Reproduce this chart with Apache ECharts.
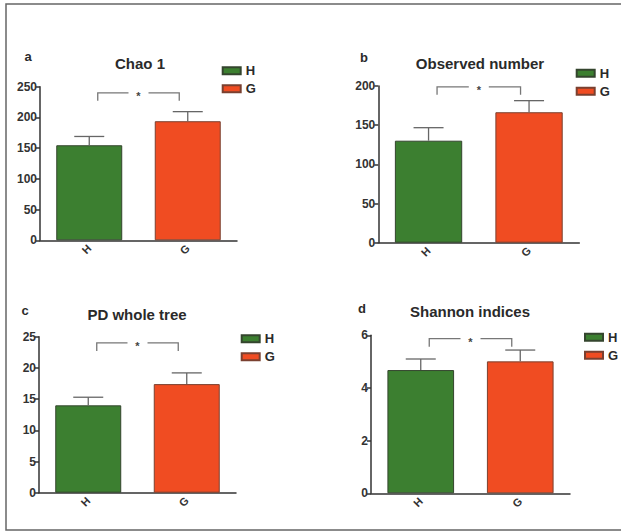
<!DOCTYPE html>
<html>
<head>
<meta charset="utf-8">
<script src="https://cdn.jsdelivr.net/npm/echarts@6/dist/echarts.min.js"></script>
<style>
html,body{margin:0;padding:0;background:#fff;}
#chart{width:621px;height:532px;}
</style>
</head>
<body>
<div id="chart"></div>
<script>
// ---- data ----
const categories = ['H', 'G'];
const panelLetters = ['a', 'b', 'c', 'd'];
const panelTitles = ['Chao 1', 'Observed number', 'PD whole tree', 'Shannon indices'];
const chaoMean = [154.7, 193.8];
const chaoUpper = [169.0, 209.4];
const observedMean = [130.2, 166.5];
const observedUpper = [146.8, 181.3];
const pdMean = [14.0, 17.4];
const pdUpper = [15.3, 19.2];
const shannonMean = [4.68, 5.01];
const shannonUpper = [5.10, 5.44];
const yMax = [250, 200, 25, 6];
const yInterval = [50, 50, 5, 2];
const bracketLevel = [240, 199, 24, 5.87];
const significance = ['*', '*', '*', '*'];

const means = [chaoMean, observedMean, pdMean, shannonMean];
const uppers = [chaoUpper, observedUpper, pdUpper, shannonUpper];

// ---- layout / style ----
const FONT = '"Liberation Sans", Arial, sans-serif';
const GREEN = '#3c7f30';
const ORANGE = '#f04c22';
const grids = [
  {left: 40, top: 86.7, width: 197, height: 153.6},
  {left: 378.3, top: 86, width: 201, height: 156.7},
  {left: 39, top: 336.7, width: 197, height: 156},
  {left: 371, top: 335.3, width: 199, height: 158}
];
const titlePos = [[140, 63.5], [480, 63], [137, 314], [470, 311.7]];
const letterPos = [[28, 56], [364, 57], [25, 310], [362, 308.5]];
const legendPos = [[221.7, 63.7], [575.7, 66.3], [240.7, 331.7], [584, 330.3]];

const option = {
  backgroundColor: '#fff',
  animation: false,
  title: [],
  legend: [],
  grid: [],
  xAxis: [],
  yAxis: [],
  series: [],
  graphic: [{
    type: 'polyline',
    shape: {points: [[621, 4], [6, 4], [6, 530], [621, 530]]},
    style: {stroke: '#666', lineWidth: 1.5, fill: null},
    silent: true
  }]
};

for (let i = 0; i < 4; i++) {
  option.grid.push(Object.assign({containLabel: false}, grids[i]));
  option.title.push({
    text: panelTitles[i], left: titlePos[i][0], top: titlePos[i][1],
    textAlign: 'center', textVerticalAlign: 'middle', padding: 0,
    textStyle: {fontFamily: FONT, fontSize: 15, fontWeight: 'bold', color: '#2a2a2a'}
  });
  option.title.push({
    text: panelLetters[i], left: letterPos[i][0], top: letterPos[i][1],
    textAlign: 'center', textVerticalAlign: 'middle', padding: 0,
    textStyle: {fontFamily: FONT, fontSize: 13, fontWeight: 'bold', color: '#2a2a2a'}
  });
  option.legend.push({
    data: categories, left: legendPos[i][0], top: legendPos[i][1],
    orient: 'vertical', icon: 'rect', itemWidth: 18, itemHeight: 7,
    itemGap: 4, itemTextGap: 9, padding: 0, selectedMode: false,
    textStyle: {fontFamily: FONT, fontSize: 13, fontWeight: 'bold', color: '#2a2a2a', lineHeight: 14}
  });
  option.xAxis.push({
    type: 'category', gridIndex: i, data: categories,
    axisLine: {lineStyle: {color: '#333', width: 1.5}},
    axisTick: {alignWithLabel: true, length: 4, lineStyle: {color: '#333', width: 1.5}},
    axisLabel: {rotate: 45, margin: 6, fontFamily: FONT, fontSize: 11, fontWeight: 'bold', color: '#333'}
  });
  option.yAxis.push({
    type: 'value', gridIndex: i, min: 0, max: yMax[i], interval: yInterval[i],
    splitLine: {show: false},
    axisLine: {show: true, lineStyle: {color: '#333', width: 1.5}},
    axisTick: {show: true, length: 4, lineStyle: {color: '#333', width: 1.5}},
    axisLabel: {margin: 3, fontFamily: FONT, fontSize: 12, fontWeight: 'bold', color: '#333'}
  });
  const m = means[i], u = uppers[i];
  option.series.push({
    name: 'H', type: 'bar', xAxisIndex: i, yAxisIndex: i,
    data: [m[0], '-'], barWidth: '67%', barGap: '-100%',
    itemStyle: {color: GREEN, borderColor: '#34452e', borderWidth: 1}
  });
  option.series.push({
    name: 'G', type: 'bar', xAxisIndex: i, yAxisIndex: i,
    data: ['-', m[1]], barWidth: '67%', barGap: '-100%',
    itemStyle: {color: ORANGE, borderColor: '#7a4030', borderWidth: 1}
  });
  // error bars (upper only)
  option.series.push({
    type: 'custom', xAxisIndex: i, yAxisIndex: i, clip: false, z: 3,
    data: categories.map((c, k) => [k, m[k], u[k]]),
    encode: {x: 0, y: [1, 2]},
    renderItem: function (params, api) {
      const p0 = api.coord([api.value(0), api.value(1)]);
      const p1 = api.coord([api.value(0), api.value(2)]);
      const st = {stroke: '#666', lineWidth: 1.3};
      return {type: 'group', children: [
        {type: 'line', shape: {x1: p0[0], y1: p0[1], x2: p1[0], y2: p1[1]}, style: st},
        {type: 'line', shape: {x1: p1[0] - 15, y1: p1[1], x2: p1[0] + 15, y2: p1[1]}, style: st}
      ]};
    }
  });
  // significance bracket
  option.series.push({
    type: 'custom', xAxisIndex: i, yAxisIndex: i, clip: false, z: 3,
    data: [[0, 1, bracketLevel[i]]],
    encode: {x: [0, 1], y: 2},
    renderItem: (function (mark) {
      return function (params, api) {
        const pL = api.coord([api.value(0), api.value(2)]);
        const pR = api.coord([api.value(1), api.value(2)]);
        const xL = pL[0] + 8.5, xR = pR[0] - 8.5, y = pL[1];
        const mid = (xL + xR) / 2;
        const st = {stroke: '#777', lineWidth: 1.3, fill: null};
        return {type: 'group', children: [
          {type: 'polyline', shape: {points: [[xL, y + 8], [xL, y], [mid - 10, y]]}, style: st},
          {type: 'polyline', shape: {points: [[mid + 10, y], [xR, y], [xR, y + 8]]}, style: st},
          {type: 'text', style: {text: mark, x: mid, y: y + 3,
            align: 'center', verticalAlign: 'middle', fontFamily: FONT, fontSize: 11, fontWeight: 'bold', fill: '#444'}}
        ]};
      };
    })(significance[i])
  });
}

const chart = echarts.init(document.getElementById('chart'), null, {renderer: 'svg'});
chart.setOption(option);
</script>
</body>
</html>
